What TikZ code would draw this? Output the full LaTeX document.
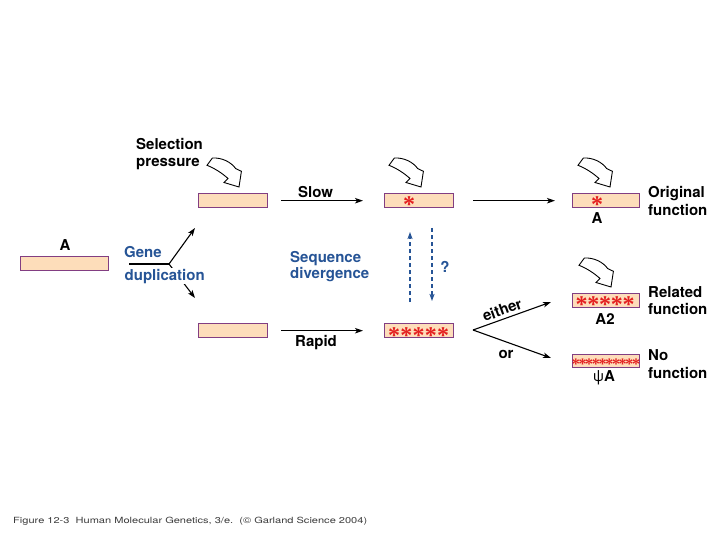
\documentclass[tikz,border=0pt]{standalone}
\usepackage{fontspec}
\usepackage{graphicx}
\setmainfont{TeX Gyre Heros}
\newfontfamily\starfont{Liberation Serif}
\usetikzlibrary{arrows.meta}
\definecolor{genefill}{RGB}{253,221,186}
\definecolor{geneborder}{RGB}{130,62,130}
\definecolor{labelblue}{RGB}{38,84,150}
\definecolor{starred}{RGB}{228,32,32}
\definecolor{captiongray}{RGB}{60,60,60}
\tikzset{
  genebox/.style={draw=geneborder, fill=genefill, line width=1.4pt, minimum height=14pt, inner sep=0, anchor=north west},
  lbl/.style={font=\fontsize{15}{18}\selectfont\bfseries, inner sep=0, anchor=base west},
  bluelbl/.style={lbl, text=labelblue},
  blackarrow/.style={-{Stealth[length=8pt,width=5.5pt,inset=2pt]}, line width=1.1pt},
  dasharrow/.style={-{Stealth[length=7pt,width=5pt,inset=1.5pt]}, line width=1.1pt, draw=labelblue, dash pattern=on 4pt off 3pt},
  bigstar/.style={text=starred, font=\starfont\bfseries\fontsize{24}{24}\selectfont, inner sep=0, anchor=base},
  smallstar/.style={text=starred, font=\starfont\bfseries\fontsize{16}{16}\selectfont, inner sep=0, anchor=base},
  hollowarrow/.pic={
    \draw[line width=0.9pt, fill=white, line join=miter]
      (-26.6,-29) .. controls (-17,-29.5) and (-8,-25) .. (-3.3,-18.4)
      -- (2.4,-15.7) -- (0,0) -- (-15,-4.5) -- (-11,-8.5)
      .. controls (-17,-14) and (-25,-19) .. (-32,-21.7) -- cycle;
  }
}
\begin{document}
\begin{tikzpicture}[x=1pt,y=-1pt]
\fill[white] (0,0) rectangle (720,540);
\useasboundingbox (0,0) rectangle (720,540);

% gene boxes
\node[genebox, minimum width=88pt] (gA) at (20,256) {};
\node[genebox, minimum width=69pt] (gdup1) at (198,193) {};
\node[genebox, minimum width=69pt] (gdup2) at (198,323) {};
\node[genebox, minimum width=69pt] (gslow) at (384,193) {};
\node[genebox, minimum width=69pt] (grapid) at (384,323) {};
\node[genebox, minimum width=67pt] (gorig) at (572,193) {};
\node[genebox, minimum width=67pt] (gAtwo) at (572,293) {};
\node[genebox, minimum width=67pt, minimum height=13pt] (gpsi) at (572,354) {};

% stars
\node[bigstar] (st1) at (409,213) {*};
\node[bigstar] (st2) at (597,213) {*};
\foreach \x [count=\i] in {394,406.3,418.6,430.9,443.2}
  \node[bigstar] (rs\i) at (\x,343) {*};
\foreach \x [count=\i] in {581.7,593.4,605.1,616.8,628.5}
  \node[bigstar] (as\i) at (\x,312.5) {*};
\foreach \x [count=\i] in {575.8,582.5,589.2,595.9,602.6,609.3,616,622.7,629.4,636.1}
  \node[smallstar] (ps\i) at (\x,369) {*};

% hollow selection arrows
\pic (hpA) at (239,187) {hollowarrow};
\pic (hpB) at (421,187) {hollowarrow};
\pic (hpC) at (610,187) {hollowarrow};
\pic (hpD) at (611,287) {hollowarrow};

% labels
\node[lbl] (sel1) at (136,150) {Selection};
\node[lbl] (sel2) at (136,167) {pressure};
\node[lbl, anchor=base] (labA) at (65,251) {A};
\node[bluelbl] (gene) at (124,257) {Gene};

% gene duplication fork
\coordinate (gdstart) at (129,264);
\coordinate (gdj) at (169,264);
\coordinate (gdtop) at (195,228);
\coordinate (gdbot) at (195,298);
\draw[line width=1.1pt] (gdstart) -- (gdj);
\draw[blackarrow] (gdj) -- (gdtop);
\draw[blackarrow] (gdj) -- (gdbot);
\node[bluelbl, fill=white, inner sep=0.5pt] (dup) at (124,280) {duplication};

\node[lbl] (slow) at (298,197) {Slow};
\node[lbl] (rapid) at (295,346) {Rapid};
\node[bluelbl] (seq1) at (290,262) {Sequence};
\node[bluelbl] (seq2) at (290,278) {divergence};
\node[bluelbl, anchor=base] (qm) at (445,272) {?};

\draw[blackarrow, shorten <=13pt, shorten >=21pt] (gdup1) -- (gslow);
\draw[blackarrow, shorten <=13pt, shorten >=21pt] (gdup2) -- (grapid);
\draw[blackarrow, shorten <=19pt, shorten >=17pt] (gslow) -- (gorig);

% dashed arrows
\coordinate (du1) at (410,302);
\coordinate (du2) at (410,232);
\coordinate (dd1) at (432,228);
\coordinate (dd2) at (432,301);
\draw[dasharrow] (du1) -- (du2);
\draw[dasharrow] (dd1) -- (dd2);

% either / or
\coordinate (fork) at (473,330);
\coordinate (eithertip) at (551,302);
\coordinate (ortip) at (551,358);
\draw[blackarrow] (fork) -- (eithertip);
\draw[blackarrow] (fork) -- (ortip);
\node[lbl, anchor=base, rotate=20] (either) at (504,315) {either};
\node[lbl, anchor=base] (or) at (506,358) {or};

% outcomes
\node[lbl] (orig1) at (648,197) {Original};
\node[lbl] (orig2) at (648,215) {function};
\node[lbl, anchor=base] (labA1) at (597,223) {A};
\node[lbl] (rel1) at (648,297) {Related};
\node[lbl] (rel2) at (648,314) {function};
\node[lbl, anchor=base] (labA2) at (605,324.5) {A2};
\node[lbl] (no1) at (648,360) {No};
\node[lbl] (no2) at (648,378) {function};
\node[lbl, anchor=base] (labpsi) at (604,381) {{\mdseries ψ}A};

% caption
\node[inner sep=0, anchor=base west, text=captiongray, font=\fontsize{8.5}{10}\selectfont] (caption) at (13,523)
  {\resizebox{354pt}{\height}{Figure 12-3\ \ Human Molecular Genetics, 3/e.\ \ (© Garland Science 2004)}};
\end{tikzpicture}
\end{document}
